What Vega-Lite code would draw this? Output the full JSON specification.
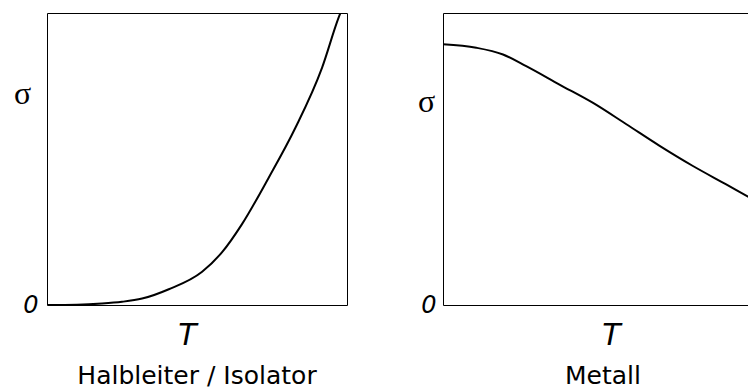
{
  "$schema": "https://vega.github.io/schema/vega-lite/v6.json",
  "padding": {"left": 12, "top": 12, "right": 0, "bottom": 0},
  "autosize": {"type": "pad"},
  "background": "white",
  "config": {
    "view": {"stroke": "#000", "strokeWidth": 1},
    "font": "DejaVu Sans",
    "axis": {"grid": false, "domain": false, "ticks": false, "labelColor": "#000", "titleColor": "#000"}
  },
  "spacing": 96,
  "bounds": "flush",
  "datasets": {
    "halb": [
      {"T": 0, "sigma": 0},
      {"T": 0.1, "sigma": 0.001},
      {"T": 0.183, "sigma": 0.005},
      {"T": 0.25, "sigma": 0.011},
      {"T": 0.317, "sigma": 0.022},
      {"T": 0.406, "sigma": 0.054},
      {"T": 0.517, "sigma": 0.114},
      {"T": 0.583, "sigma": 0.18},
      {"T": 0.65, "sigma": 0.277},
      {"T": 0.739, "sigma": 0.436},
      {"T": 0.828, "sigma": 0.607},
      {"T": 0.917, "sigma": 0.813},
      {"T": 0.972, "sigma": 0.984},
      {"T": 0.978, "sigma": 1.0}
    ],
    "metall": [
      {"T": 0, "sigma": 0.893},
      {"T": 0.104, "sigma": 0.881},
      {"T": 0.1875, "sigma": 0.858},
      {"T": 0.26, "sigma": 0.818},
      {"T": 0.364, "sigma": 0.755},
      {"T": 0.469, "sigma": 0.692},
      {"T": 0.573, "sigma": 0.619},
      {"T": 0.677, "sigma": 0.545},
      {"T": 0.781, "sigma": 0.476},
      {"T": 0.885, "sigma": 0.413},
      {"T": 0.96, "sigma": 0.367},
      {"T": 1.0, "sigma": 0.343}
    ]
  },
  "hconcat": [
    {
      "width": 300,
      "height": 292,
      "data": {"name": "halb"},
      "title": {"text": "Halbleiter / Isolator", "orient": "bottom", "anchor": "middle", "fontSize": 25, "fontWeight": "normal", "font": "DejaVu Sans", "color": "#000", "offset": 14, "baseline": "top"},
      "mark": {"type": "line", "color": "#000", "strokeWidth": 2, "interpolate": "monotone", "clip": true},
      "encoding": {
        "x": {"field": "T", "type": "quantitative", "scale": {"domain": [0, 1], "nice": false},
          "axis": {"labels": false, "title": "T", "titleFontSize": 30, "titleFontStyle": "italic", "titleFontWeight": "normal", "titleX": 140, "titleY": 39, "titleBaseline": "alphabetic", "titleAlign": "center"}},
        "y": {"field": "sigma", "type": "quantitative", "scale": {"domain": [0, 1], "nice": false},
          "axis": {"values": [0], "labelFontSize": 24, "labelFontStyle": "italic", "labelPadding": 9, "labelFlush": false, "title": "σ", "titleFont": "Liberation Serif", "titleFontSize": 32, "titleFontWeight": "normal", "titleAngle": 0, "titleX": -25, "titleY": 80, "titleAlign": "center", "titleBaseline": "middle"}}
      }
    },
    {
      "width": 320,
      "height": 292,
      "data": {"name": "metall"},
      "title": {"text": "Metall", "orient": "bottom", "anchor": "middle", "fontSize": 25, "fontWeight": "normal", "font": "DejaVu Sans", "color": "#000", "offset": 14, "baseline": "top"},
      "mark": {"type": "line", "color": "#000", "strokeWidth": 2, "interpolate": "monotone", "clip": true},
      "encoding": {
        "x": {"field": "T", "type": "quantitative", "scale": {"domain": [0, 1], "nice": false},
          "axis": {"labels": false, "title": "T", "titleFontSize": 30, "titleFontStyle": "italic", "titleFontWeight": "normal", "titleX": 168, "titleY": 39, "titleBaseline": "alphabetic", "titleAlign": "center"}},
        "y": {"field": "sigma", "type": "quantitative", "scale": {"domain": [0, 1], "nice": false},
          "axis": {"values": [0], "labelFontSize": 24, "labelFontStyle": "italic", "labelPadding": 7, "labelFlush": false, "title": "σ", "titleFont": "Liberation Serif", "titleFontSize": 32, "titleFontWeight": "normal", "titleAngle": 0, "titleX": -17, "titleY": 88, "titleAlign": "center", "titleBaseline": "middle"}}
      }
    }
  ]
}
